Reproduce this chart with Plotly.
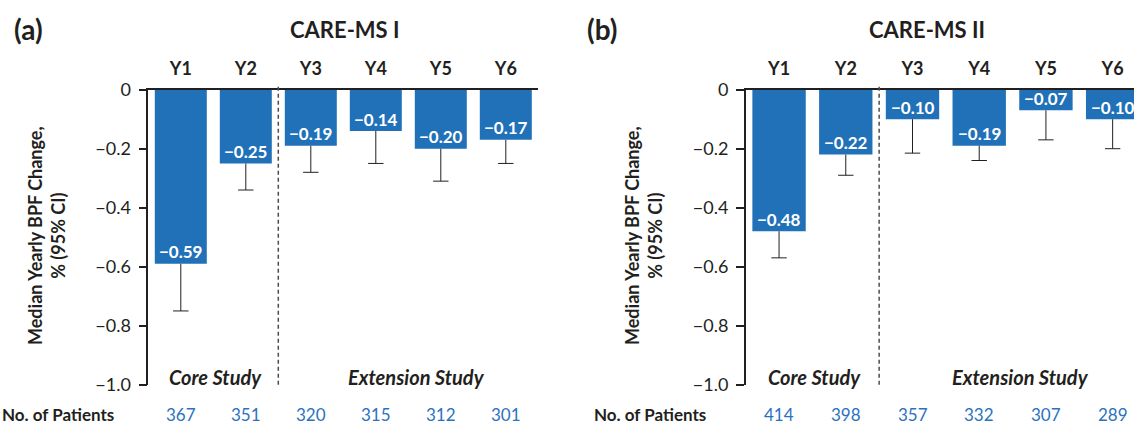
import plotly.graph_objects as go

# Median yearly brain parenchymal fraction change with 95% CI lower bounds
years = ["Y1", "Y2", "Y3", "Y4", "Y5", "Y6"]

ms1_median = [-0.59, -0.25, -0.19, -0.14, -0.20, -0.17]
ms1_lower = [-0.75, -0.34, -0.28, -0.25, -0.31, -0.25]
ms1_patients = [367, 351, 320, 315, 312, 301]

ms2_median = [-0.48, -0.22, -0.10, -0.19, -0.07, -0.10]
ms2_lower = [-0.57, -0.29, -0.215, -0.24, -0.17, -0.20]
ms2_patients = [414, 398, 357, 332, 307, 289]

y_ticks = [0, -0.2, -0.4, -0.6, -0.8, -1.0]
y_tick_text = ["0", "\u22120.2", "\u22120.4", "\u22120.6", "\u22120.8", "\u22121.0"]

W, H = 1134, 428
BAR = "#2171b8"
INK = "#231f20"
NUM_BLUE = "#2a72c0"
FONT = "Lato"


def px_x(v):
    return v / W


def px_y(v):
    return 1 - v / H


def fmt(v):
    return f"{v:.2f}".replace("-", "\u2212")


fig = go.Figure()

panels = [
    dict(xa="x", ya="y", med=ms1_median, low=ms1_lower, n=ms1_patients,
         dom=[px_x(148.3), px_x(538.3)], rng=[-0.5, 5.5]),
    dict(xa="x2", ya="y2", med=ms2_median, low=ms2_lower, n=ms2_patients,
         dom=[px_x(745.7), 1.0], rng=[-0.5, 5.32]),
]

annotations = []
shapes = []
y_top, y_bot = px_y(89.7), px_y(384.7)

for p in panels:
    fig.add_trace(go.Bar(
        x=years, y=p["med"], xaxis=p["xa"], yaxis=p["ya"],
        width=0.8, marker=dict(color=BAR, line=dict(width=0)),
        error_y=dict(type="data", symmetric=False,
                     array=[0] * len(years),
                     arrayminus=[m - l for m, l in zip(p["med"], p["low"])],
                     width=0, thickness=1, color=INK),
        hoverinfo="skip", showlegend=False,
    ))
    # caps at the lower CI bound
    fig.add_trace(go.Scatter(
        x=years, y=p["low"], xaxis=p["xa"], yaxis=p["ya"], mode="markers",
        marker=dict(symbol="line-ew", size=11, line=dict(width=1, color=INK)),
        hoverinfo="skip", showlegend=False,
    ))
    for yr, m in zip(years, p["med"]):
        annotations.append(dict(
            x=yr, y=m, xref=p["xa"], yref=p["ya"], text=fmt(m),
            showarrow=False, xanchor="center", yanchor="middle", yshift=12,
            font=dict(family=FONT, size=17, color="white", weight="bold"),
        ))
    for yr, n in zip(years, p["n"]):
        annotations.append(dict(
            x=yr, y=px_y(414), xref=p["xa"], yref="paper", text=str(n),
            showarrow=False, xanchor="center", yanchor="middle",
            font=dict(family=FONT, size=17, color=NUM_BLUE),
        ))
    for label, xpos in [("Core Study", 0.53), ("Extension Study", 3.62)]:
        annotations.append(dict(
            x=xpos, y=px_y(377), xref=p["xa"], yref="paper", text=label,
            showarrow=False, xanchor="center", yanchor="middle",
            font=dict(family=FONT, size=20, color=INK, weight="bold", style="italic"),
        ))
    shapes.append(dict(
        type="line", xref=p["xa"], yref="paper", x0=1.5, x1=1.5,
        y0=y_bot, y1=px_y(86),
        line=dict(color="#4d4d4d", width=1.5, dash="4px,3px"),
    ))

# panel letters, titles, axis titles and row labels
for letter, lx, title, tx, axx, rowx in [
    ("(a)", 28, "CARE-MS I", 345, 47, 0),
    ("(b)", 602, "CARE-MS II", 927, 644, 592),
]:
    annotations.append(dict(
        x=px_x(lx), y=px_y(29), xref="paper", yref="paper", text=letter,
        xanchor="center", yanchor="middle", showarrow=False,
        font=dict(family=FONT, size=28, color=INK, weight="bold")))
    annotations.append(dict(
        x=px_x(tx), y=px_y(30), xref="paper", yref="paper", text=title,
        xanchor="center", yanchor="middle", showarrow=False,
        font=dict(family=FONT, size=22, color=INK, weight="bold")))
    annotations.append(dict(
        x=px_x(axx), y=px_y(236), xref="paper", yref="paper",
        text="Median Yearly BPF Change,<br>% (95% CI)", textangle=-90,
        xanchor="center", yanchor="middle", showarrow=False, align="center",
        font=dict(family=FONT, size=18, color=INK, weight="bold")))
    annotations.append(dict(
        x=px_x(rowx), y=px_y(414), xref="paper", yref="paper",
        text="No. of Patients", xanchor="left", yanchor="middle", showarrow=False,
        font=dict(family=FONT, size=17, color=INK, weight="bold")))

xaxis_common = dict(
    side="top", showline=True, linecolor=INK, linewidth=1.5,
    ticks="outside", ticklen=6, tickcolor="rgba(0,0,0,0)",
    tickfont=dict(family=FONT, size=18, color=INK, weight="bold"),
    showgrid=False, zeroline=False, fixedrange=True, automargin=False,
)
yaxis_common = dict(
    range=[-1.0, 0], domain=[y_bot, y_top], showline=True, linecolor=INK,
    linewidth=1.5, ticks="outside", ticklen=8, tickwidth=1.5, tickcolor=INK,
    tickvals=y_ticks, ticktext=y_tick_text, ticklabelstandoff=4,
    tickfont=dict(family=FONT, size=18, color=INK),
    showgrid=False, zeroline=False, fixedrange=True, automargin=False,
)

fig.update_layout(
    width=W, height=H, margin=dict(l=0, r=0, t=0, b=0, autoexpand=False),
    paper_bgcolor="white", plot_bgcolor="white",
    xaxis=dict(domain=panels[0]["dom"], range=panels[0]["rng"], anchor="y", **xaxis_common),
    yaxis=dict(anchor="x", **yaxis_common),
    xaxis2=dict(domain=panels[1]["dom"], range=panels[1]["rng"], anchor="y2", **xaxis_common),
    yaxis2=dict(anchor="x2", **yaxis_common),
    annotations=annotations, shapes=shapes,
    font=dict(family=FONT, color=INK),
)

fig.write_html("out.html", config={"displayModeBar": False})
